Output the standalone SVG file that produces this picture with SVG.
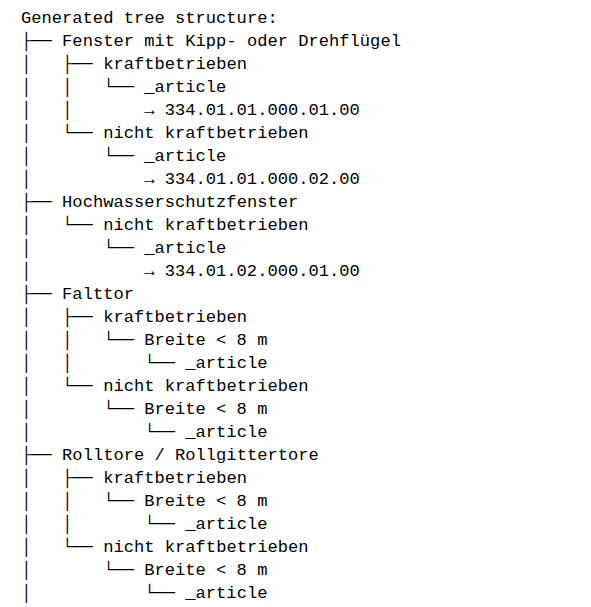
<svg xmlns="http://www.w3.org/2000/svg" width="591" height="607" viewBox="0 0 591 607" xml:space="preserve">
<style>
text { font-family: "Liberation Mono", "DejaVu Sans Mono", monospace; font-size: 17.12px; fill: #000; white-space: pre; }
</style>
<rect width="591" height="607" fill="#fff"/>
<g id="connectors">
<text x="21" y="46">├──</text>
<text x="21" y="69">│   ├──</text>
<text x="21" y="92">│   │   └──</text>
<text x="21" y="115">│   │</text>
<text x="21" y="138">│   └──</text>
<text x="21" y="161">│       └──</text>
<text x="21" y="184">│</text>
<text x="21" y="207">├──</text>
<text x="21" y="230">│   └──</text>
<text x="21" y="253">│       └──</text>
<text x="21" y="276">│</text>
<text x="21" y="299">├──</text>
<text x="21" y="322">│   ├──</text>
<text x="21" y="345">│   │   └──</text>
<text x="21" y="368">│   │       └──</text>
<text x="21" y="391">│   └──</text>
<text x="21" y="414">│       └──</text>
<text x="21" y="437">│           └──</text>
<text x="21" y="460">├──</text>
<text x="21" y="483">│   ├──</text>
<text x="21" y="506">│   │   └──</text>
<text x="21" y="529">│   │       └──</text>
<text x="21" y="552">│   └──</text>
<text x="21" y="575">│       └──</text>
<text x="21" y="598">│           └──</text>
<text x="21" y="621">│</text>
</g>
<g id="title"><text x="21" y="23">Generated tree structure:</text></g>
<g id="n-fenster"><text x="62.1" y="46">Fenster mit Kipp- oder Drehflügel</text></g>
<g id="n-fenster-kb"><text x="103.2" y="69">kraftbetrieben</text></g>
<g id="n-fenster-kb-article"><text x="144.2" y="92">_article</text></g>
<g id="n-fenster-kb-ref"><text x="144.2" y="115">→ 334.01.01.000.01.00</text></g>
<g id="n-fenster-nkb"><text x="103.2" y="138">nicht kraftbetrieben</text></g>
<g id="n-fenster-nkb-article"><text x="144.2" y="161">_article</text></g>
<g id="n-fenster-nkb-ref"><text x="144.2" y="184">→ 334.01.01.000.02.00</text></g>
<g id="n-hochwasser"><text x="62.1" y="207">Hochwasserschutzfenster</text></g>
<g id="n-hochwasser-nkb"><text x="103.2" y="230">nicht kraftbetrieben</text></g>
<g id="n-hochwasser-nkb-article"><text x="144.2" y="253">_article</text></g>
<g id="n-hochwasser-nkb-ref"><text x="144.2" y="276">→ 334.01.02.000.01.00</text></g>
<g id="n-falttor"><text x="62.1" y="299">Falttor</text></g>
<g id="n-falttor-kb"><text x="103.2" y="322">kraftbetrieben</text></g>
<g id="n-falttor-kb-breite"><text x="144.2" y="345">Breite &lt; 8 m</text></g>
<g id="n-falttor-kb-article"><text x="185.3" y="368">_article</text></g>
<g id="n-falttor-nkb"><text x="103.2" y="391">nicht kraftbetrieben</text></g>
<g id="n-falttor-nkb-breite"><text x="144.2" y="414">Breite &lt; 8 m</text></g>
<g id="n-falttor-nkb-article"><text x="185.3" y="437">_article</text></g>
<g id="n-rolltore"><text x="62.1" y="460">Rolltore / Rollgittertore</text></g>
<g id="n-rolltore-kb"><text x="103.2" y="483">kraftbetrieben</text></g>
<g id="n-rolltore-kb-breite"><text x="144.2" y="506">Breite &lt; 8 m</text></g>
<g id="n-rolltore-kb-article"><text x="185.3" y="529">_article</text></g>
<g id="n-rolltore-nkb"><text x="103.2" y="552">nicht kraftbetrieben</text></g>
<g id="n-rolltore-nkb-breite"><text x="144.2" y="575">Breite &lt; 8 m</text></g>
<g id="n-rolltore-nkb-article"><text x="185.3" y="598">_article</text></g>
</svg>
